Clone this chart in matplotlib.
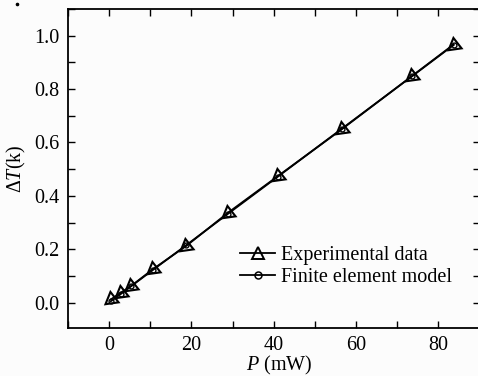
import matplotlib
matplotlib.use("Agg")
import matplotlib.pyplot as plt
from matplotlib.lines import Line2D
from matplotlib.ticker import MultipleLocator

plt.rcParams['font.family'] = ['Liberation Serif', 'DejaVu Serif']
plt.rcParams['mathtext.fontset'] = 'custom'
plt.rcParams['mathtext.rm'] = 'Liberation Serif'
plt.rcParams['mathtext.it'] = 'Liberation Serif:italic'

# Data
power_exp = [0.4, 2.8, 5.3, 10.6, 18.7, 28.9, 41.0, 56.5, 73.6, 83.7]
dT_exp = [0.012, 0.037, 0.062, 0.125, 0.212, 0.337, 0.474, 0.649, 0.849, 0.967]
power_model = [0.4, 2.8, 5.3, 10.6, 18.7, 28.9, 41.0, 56.5, 73.6, 83.7]
dT_model = [0.005, 0.032, 0.061, 0.122, 0.215, 0.333, 0.472, 0.651, 0.848, 0.965]

xticks = [0, 20, 40, 60, 80]
yticks = [0.0, 0.2, 0.4, 0.6, 0.8, 1.0]

fig = plt.figure(figsize=(4.78, 3.76), dpi=100)
fig.patch.set_facecolor('#fcfcfc')
W, H = 478, 376
AX_L, AX_R = 68, 479.5
ax = fig.add_axes([AX_L / W, 1 - 328 / H, (AX_R - AX_L) / W, (328 - 9) / H])
ax.set_facecolor('#fcfcfc')

ax.plot(power_model, dT_model, color='black', lw=1.3, marker='o', ms=3.5,
        mfc='none', mec='black', mew=1.0, label='Finite element model', zorder=2)
ax.plot(power_exp, dT_exp, color='black', lw=1.3, marker=(3, 0, 8), ms=11,
        mfc='none', mec='black', mew=1.5, linestyle='-', label='Experimental data', zorder=3)

ax.set_xlim(-10, 90)
ax.set_ylim(-0.095, 1.1)
ax.set_xticks(xticks)
ax.set_yticks(yticks)
ax.set_yticklabels([f"{v:.1f}" for v in yticks])
ax.xaxis.set_minor_locator(MultipleLocator(10))
ax.yaxis.set_minor_locator(MultipleLocator(0.1))
ax.tick_params(which='both', direction='in', top=True, right=True,
               length=5, width=1.0, labelsize=14.5, pad=6, colors='black')
for s in ax.spines.values():
    s.set_linewidth(1.3)

ax.set_xlabel(r'$\it{P}$' + ' (mW)', fontsize=14.5)
ax.set_ylabel(r'$\Delta\it{T}$' + '(k)', fontsize=14.5)
ax.xaxis.set_label_coords((279 - AX_L) / (AX_R - AX_L), -0.08)
ax.yaxis.set_label_coords((28 - AX_L) / (AX_R - AX_L), 0.5)

# legend handles (upright triangle, small open circle as in the reference)
h_exp = Line2D([], [], color='black', lw=1.3, marker='^', ms=8.5,
               mfc='none', mec='black', mew=1.4)
h_mod = Line2D([], [], color='black', lw=1.3, marker='o', ms=5,
               mfc='none', mec='black', mew=1.1)
leg = ax.legend([h_exp, h_mod], ['Experimental data', 'Finite element model'],
                loc='lower left',
                bbox_to_anchor=((226 - AX_L) / (AX_R - AX_L), 0.085),
                frameon=False, fontsize=14.5, handlelength=1.75,
                handletextpad=0.3, labelspacing=0.15, borderpad=0.2)

# small speck at the top-left corner of the original figure
fig.add_artist(Line2D([17 / W], [1 - 4 / H], marker='o', ms=1.6, color='black',
                      linestyle='none', transform=fig.transFigure))

fig.savefig('out.png', dpi=100, facecolor=fig.get_facecolor())
